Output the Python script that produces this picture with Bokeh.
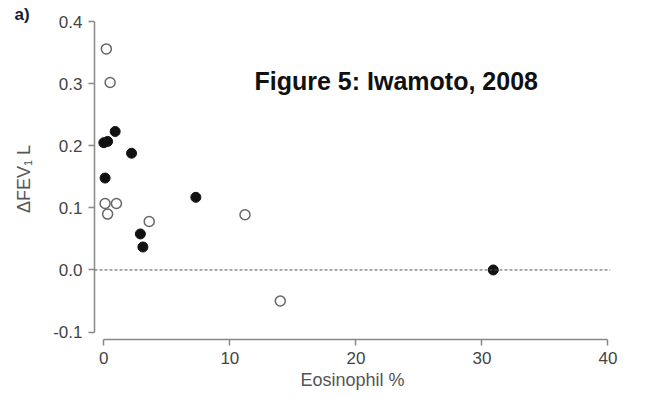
from bokeh.plotting import figure
from bokeh.models import Span, Label, FixedTicker, NumeralTickFormatter
from bokeh.embed import file_html
from bokeh.resources import INLINE

# Data
open_x = [0.2, 0.5, 0.1, 1.0, 0.3, 3.6, 11.2, 14.0]
open_y = [0.356, 0.302, 0.107, 0.107, 0.090, 0.078, 0.089, -0.050]
filled_x = [0.0, 0.3, 0.9, 2.2, 0.1, 7.3, 2.9, 3.1, 30.9]
filled_y = [0.205, 0.207, 0.223, 0.188, 0.148, 0.117, 0.058, 0.037, 0.0]
x_ticks = [0, 10, 20, 30, 40]
y_ticks = [-0.1, 0.0, 0.1, 0.2, 0.3, 0.4]

FONT = "Liberation Sans"

p = figure(width=642, height=392, output_backend="svg", toolbar_location=None,
           x_range=(-0.74, 40.2), y_range=(-0.112, 0.405),
           min_border_left=94, min_border_right=32, min_border_top=18, min_border_bottom=53)
p.outline_line_color = None
p.grid.visible = False
p.background_fill_color = "white"

p.title.text = "a)"
p.title.align = "left"
p.title.offset = -80
p.title.standoff = -10
p.title.text_font = FONT
p.title.text_font_size = "17px"
p.title.text_font_style = "bold"
p.title.text_color = "#1a1a3a"

p.xaxis.bounds = (0, 40)
p.yaxis.bounds = (-0.1, 0.4)
p.xaxis.ticker = FixedTicker(ticks=x_ticks)
p.yaxis.ticker = FixedTicker(ticks=y_ticks)
p.yaxis.formatter = NumeralTickFormatter(format="0.0")
p.xaxis.axis_label = "Eosinophil %"
p.yaxis.axis_label = "ΔFEV₁ L"
for ax in (p.xaxis, p.yaxis):
    ax.axis_line_color = "#888888"
    ax.axis_line_width = 1.5
    ax.major_tick_line_color = "#888888"
    ax.major_tick_line_width = 1.5
    ax.major_tick_in = 0
    ax.major_tick_out = 6
    ax.minor_tick_line_color = None
    ax.major_label_text_font = FONT
    ax.major_label_text_font_size = "17px"
    ax.major_label_text_color = "#444444"
    ax.major_label_standoff = 6
    ax.axis_label_text_font = FONT
    ax.axis_label_text_font_size = "18px"
    ax.axis_label_text_font_style = "normal"
    ax.axis_label_text_color = "#555555"
p.xaxis.axis_label_standoff = 3
p.yaxis.axis_label_standoff = 16

p.add_layout(Span(location=0, dimension="width", line_color="#555555",
                  line_dash="3 2", line_width=1))

p.scatter(open_x, open_y, marker="circle", size=10, fill_color="white",
          line_color="#666666", line_width=1.5)
p.scatter(filled_x, filled_y, marker="circle", size=10, fill_color="#111111",
          line_color="#111111", line_width=1)

p.add_layout(Label(x=23.2, y=0.305, text="Figure 5: Iwamoto, 2008",
                   text_font=FONT, text_font_size="25px", text_font_style="bold",
                   text_color="#111111", text_align="center", text_baseline="middle"))

open("out.html", "w").write(file_html(p, INLINE))
